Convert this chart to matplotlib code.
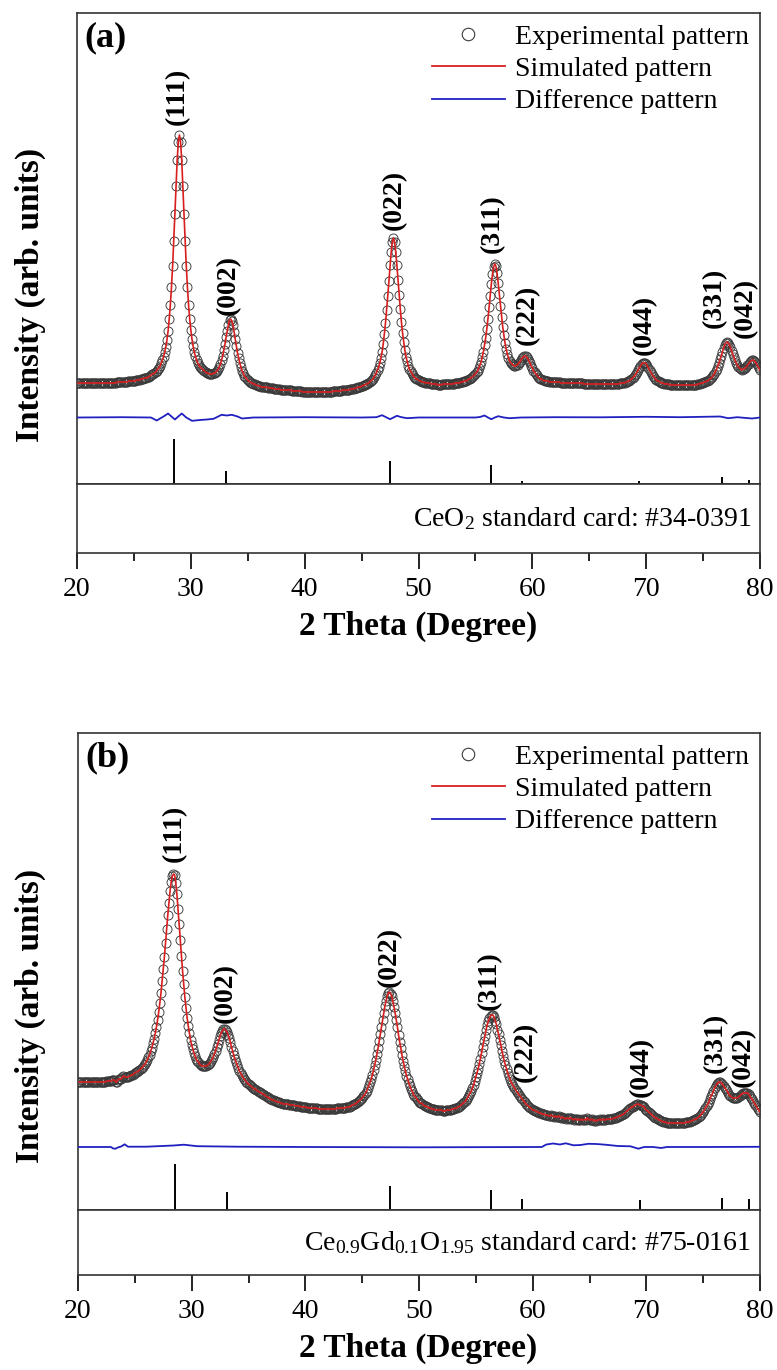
import numpy as np
import matplotlib
matplotlib.use("Agg")
import matplotlib.pyplot as plt
from matplotlib.lines import Line2D
from matplotlib.ticker import MultipleLocator

plt.rcParams['font.family'] = ['Liberation Serif', 'DejaVu Serif']
plt.rcParams['mathtext.fontset'] = 'custom'
plt.rcParams['mathtext.rm'] = 'Liberation Serif'
plt.rcParams['mathtext.it'] = 'Liberation Serif:italic'
plt.rcParams['mathtext.bf'] = 'Liberation Serif:bold'

# 2 theta grid of the scan (0.1 deg step, 20..80)
two_theta = np.round(np.arange(200, 801) / 10.0, 1)

# (a) CeO2 - observed intensity (arb. units), one row per degree
obs_a = [
    101, 101, 101, 101, 101, 101, 101, 101, 101, 101,
    101, 101, 101, 101, 101, 101, 101, 101, 101, 101,
    101, 101, 101, 101, 101, 101, 101, 101, 101, 101,
    101, 101, 101, 101, 101, 102, 102, 102, 102, 102,
    102, 102, 102, 102, 102, 103, 103, 103, 103, 103,
    103, 103, 104, 104, 104, 104, 105, 105, 105, 106,
    106, 106, 107, 107, 108, 109, 110, 110, 111, 112,
    113, 115, 116, 118, 121, 124, 127, 132, 137, 144,
    153, 165, 179, 197, 218, 243, 270, 298, 324, 342,
    349, 342, 324, 298, 270, 243, 218, 197, 179, 165,
    154, 145, 138, 132, 128, 124, 121, 119, 117, 116,
    115, 114, 113, 112, 111, 111, 110, 110, 110, 110,
    111, 111, 112, 113, 115, 117, 120, 124, 128, 134,
    140, 147, 153, 159, 164, 165, 163, 159, 152, 145,
    138, 131, 126, 121, 117, 113, 111, 108, 107, 105,
    104, 103, 102, 101, 101, 100, 100, 99, 99, 98,
    98, 98, 97, 97, 97, 97, 97, 97, 96, 96,
    96, 96, 96, 95, 95, 95, 95, 95, 95, 94,
    94, 94, 94, 94, 94, 94, 94, 94, 94, 93,
    93, 93, 93, 93, 93, 93, 93, 93, 92, 92,
    92, 92, 92, 92, 92, 92, 92, 92, 92, 92,
    92, 92, 92, 92, 92, 92, 92, 92, 92, 92,
    92, 92, 92, 92, 92, 93, 93, 93, 93, 93,
    93, 93, 93, 94, 94, 94, 94, 94, 94, 94,
    95, 95, 95, 95, 96, 96, 96, 97, 97, 97,
    98, 98, 99, 99, 100, 100, 101, 102, 103, 104,
    105, 107, 109, 111, 114, 117, 121, 126, 132, 140,
    150, 161, 174, 188, 203, 219, 232, 242, 246, 242,
    232, 219, 204, 189, 175, 162, 151, 142, 134, 127,
    123, 118, 115, 113, 111, 109, 107, 106, 105, 105,
    104, 103, 103, 102, 102, 102, 101, 101, 101, 101,
    101, 100, 100, 100, 100, 100, 100, 99, 99, 99,
    99, 100, 100, 100, 100, 100, 100, 100, 100, 100,
    100, 100, 101, 101, 101, 101, 101, 102, 102, 102,
    103, 103, 103, 104, 105, 105, 106, 107, 108, 109,
    110, 112, 113, 116, 119, 122, 127, 132, 139, 146,
    155, 165, 177, 188, 200, 210, 217, 220, 218, 211,
    201, 190, 178, 167, 157, 149, 141, 135, 130, 126,
    123, 121, 120, 119, 118, 118, 119, 119, 121, 122,
    124, 126, 127, 128, 128, 127, 125, 123, 121, 118,
    116, 113, 112, 110, 109, 107, 106, 105, 105, 104,
    104, 103, 103, 103, 103, 102, 102, 102, 102, 102,
    102, 102, 102, 102, 102, 101, 101, 101, 101, 101,
    101, 101, 101, 101, 101, 101, 101, 101, 101, 101,
    101, 101, 101, 101, 101, 100, 100, 100, 100, 100,
    100, 100, 100, 100, 100, 100, 100, 100, 100, 100,
    100, 100, 100, 100, 100, 100, 100, 100, 100, 100,
    100, 100, 100, 100, 100, 100, 100, 101, 101, 101,
    101, 101, 102, 102, 103, 103, 104, 105, 106, 107,
    109, 110, 112, 114, 116, 118, 120, 121, 121, 121,
    120, 118, 116, 114, 112, 110, 108, 107, 105, 104,
    103, 103, 102, 101, 101, 101, 100, 100, 100, 100,
    100, 99, 99, 99, 99, 99, 99, 99, 99, 99,
    99, 99, 99, 99, 99, 99, 99, 99, 99, 99,
    99, 99, 99, 99, 99, 100, 100, 100, 101, 101,
    101, 102, 102, 103, 103, 104, 105, 106, 107, 109,
    110, 113, 115, 118, 121, 125, 128, 132, 136, 139,
    141, 142, 141, 139, 137, 133, 130, 127, 124, 121,
    119, 117, 116, 115, 114, 115, 115, 116, 117, 119,
    120, 122, 123, 124, 124, 123, 122, 120, 118, 116,
    114,
]

# (b) Ce0.9Gd0.1O1.95 - observed intensity (arb. units)
obs_b = [
    128, 128, 128, 128, 128, 128, 128, 128, 128, 128,
    128, 128, 128, 128, 128, 128, 128, 128, 128, 128,
    128, 128, 128, 128, 128, 129, 129, 129, 129, 129,
    130, 130, 130, 128, 128, 130, 131, 131, 131, 133,
    134, 133, 133, 133, 133, 134, 134, 135, 135, 136,
    137, 138, 138, 139, 140, 141, 142, 143, 145, 146,
    148, 150, 153, 155, 159, 162, 167, 171, 177, 183,
    190, 198, 207, 217, 229, 241, 253, 267, 281, 295,
    307, 319, 328, 334, 336, 335, 327, 316, 301, 286,
    270, 254, 239, 226, 213, 202, 192, 184, 177, 170,
    165, 161, 157, 154, 151, 149, 148, 146, 145, 144,
    144, 144, 144, 144, 145, 146, 147, 149, 151, 153,
    156, 159, 163, 166, 170, 174, 177, 179, 181, 181,
    180, 178, 175, 172, 168, 163, 159, 155, 151, 148,
    145, 142, 139, 137, 135, 133, 131, 130, 128, 127,
    126, 125, 124, 123, 122, 121, 121, 120, 119, 118,
    118, 117, 116, 116, 115, 114, 113, 113, 112, 111,
    111, 110, 110, 109, 109, 108, 108, 108, 107, 107,
    106, 106, 106, 106, 106, 106, 105, 105, 105, 105,
    105, 104, 104, 104, 104, 104, 103, 103, 103, 103,
    103, 103, 102, 102, 102, 102, 102, 102, 102, 102,
    102, 101, 101, 101, 101, 101, 101, 101, 101, 101,
    101, 101, 101, 101, 101, 101, 101, 101, 102, 102,
    102, 102, 102, 102, 102, 102, 103, 103, 103, 103,
    104, 105, 105, 106, 106, 107, 108, 109, 110, 111,
    112, 114, 115, 117, 119, 122, 125, 128, 131, 135,
    140, 145, 150, 156, 162, 169, 176, 183, 190, 197,
    204, 209, 214, 217, 218, 216, 214, 209, 203, 197,
    190, 183, 175, 168, 162, 155, 149, 144, 139, 134,
    131, 127, 124, 121, 119, 116, 114, 113, 111, 110,
    108, 107, 107, 106, 105, 104, 104, 103, 103, 102,
    102, 101, 101, 101, 100, 100, 100, 100, 100, 100,
    100, 99, 99, 99, 100, 100, 100, 100, 100, 101,
    101, 101, 102, 102, 103, 103, 104, 105, 106, 107,
    108, 109, 111, 113, 115, 117, 119, 122, 125, 129,
    133, 137, 141, 146, 151, 157, 163, 169, 174, 180,
    185, 189, 192, 194, 195, 195, 193, 189, 186, 180,
    176, 170, 165, 159, 154, 149, 145, 141, 137, 134,
    131, 128, 126, 124, 122, 120, 118, 117, 115, 114,
    112, 111, 109, 108, 106, 105, 104, 103, 102, 101,
    100, 100, 99, 99, 98, 98, 97, 97, 96, 96,
    96, 95, 95, 95, 94, 94, 95, 94, 94, 93,
    94, 93, 93, 94, 93, 92, 93, 92, 92, 91,
    92, 92, 91, 92, 92, 91, 90, 91, 91, 90,
    91, 90, 90, 91, 90, 90, 91, 90, 92, 91,
    90, 90, 91, 90, 89, 90, 89, 90, 90, 91,
    90, 90, 91, 90, 90, 91, 91, 91, 91, 91,
    91, 92, 92, 92, 93, 93, 94, 94, 95, 95,
    96, 97, 98, 99, 100, 101, 102, 103, 103, 104,
    105, 105, 106, 106, 105, 105, 104, 104, 103, 101,
    100, 99, 98, 97, 96, 95, 94, 93, 92, 92,
    91, 90, 90, 89, 89, 88, 88, 88, 87, 87,
    87, 87, 87, 87, 87, 87, 87, 87, 87, 87,
    87, 87, 87, 87, 87, 88, 88, 88, 88, 89,
    89, 90, 90, 91, 91, 92, 93, 94, 95, 97,
    98, 100, 102, 104, 106, 108, 111, 114, 116, 119,
    122, 124, 126, 127, 128, 128, 127, 126, 124, 122,
    121, 119, 117, 115, 114, 113, 112, 112, 112, 112,
    112, 113, 114, 115, 116, 117, 117, 117, 117, 117,
    116, 114, 112, 111, 109, 107, 105, 103, 101, 100,
    98,
]

# difference (obs - calc) curves
diff_a_x = [20, 24, 26.5, 27.0, 27.6, 28.0, 28.3, 28.6, 28.9, 29.2,
            29.6, 30.1, 30.8, 31.4, 32.0, 32.7, 33.15, 33.6, 34.1, 34.5,
            35.5, 40, 45, 46.3, 46.8, 47.2, 47.5, 47.8, 48.1, 48.5,
            49.0, 50, 55, 55.4, 55.8, 56.1, 56.4, 56.7, 57.0, 57.5,
            58.0, 59, 62, 66, 70, 73, 76.5, 77.2, 78, 79.3, 80]
diff_a_y = [0, 0.3, 0, -3.0, 1.0, 4.0, 1.0, -2.0, 1.0, 4.0,
            0, -3.3, -2.5, -2.0, -1.3, 2.7, 2.0, 2.7, 1.0, -1.0,
            0, 0.3, 0, 0.3, 2.3, 0, -1.7, 0, 1.7, 0.3,
            -0.7, 0, 0, 0.5, 2.0, 0, -1.7, 0, 1.3, 0,
            -0.7, 0, 0.3, 0.2, 0.7, 0.3, 1.0, -0.7, 0.3, -1.0, 0]
diff_b_x = [20, 22.9, 23.1, 23.3, 23.5, 23.8, 24.1, 24.4, 26, 28.4,
            29.3, 30.5, 34, 40, 50, 60.8, 61.2, 61.8, 62.4, 62.9,
            63.6, 64.2, 64.9, 65.6, 66.4, 67.5, 68.6, 69.3, 69.8, 70.6,
            71.3, 71.8, 75, 80]
diff_b_y = [0, 0, -1.5, -1.7, -0.5, 0.5, 2.7, 0.3, 0.3, 1.5,
            2.3, 0.8, 0.3, 0, -0.3, 0, 2.5, 3.5, 2.5, 3.7,
            1.7, 2.0, 3.2, 3.0, 2.3, 1.0, 0.7, -1.7, 0, 0,
            -1.0, 0, 0, 0.2]

# standard card reflections
card_pos = [28.55, 33.08, 47.48, 56.34, 59.09, 69.40, 76.70, 79.07]
card_int_a = [100, 29, 51, 42, 7, 7, 16, 9]
card_int_b = [100, 39, 52, 43, 24, 22, 26, 24]

hkl = ["(111)", "(002)", "(022)", "(311)", "(222)", "(044)", "(331)", "(042)"]
hkl_x_a = [28.8, 33.3, 47.85, 56.5, 59.6, 69.8, 76.0, 78.7]
hkl_y_a = [359, 169, 254, 231, 139, 129, 156, 146]
hkl_x_b = [28.5, 33.0, 47.4, 56.2, 59.4, 69.6, 76.1, 78.5]
hkl_y_b = [348, 187, 223, 200, 128, 113, 137, 123]

legend_labels = ["Experimental pattern", "Simulated pattern", "Difference pattern"]

RED = "#d81e1e"
BLUE = "#2020c0"
EDGE = "#3a3a3a"
W, H = 777, 1370


def fx(px):
    return px / W


def fy(px):
    return 1 - px / H


def draw_panel(fig, top, sep, bottom, left, obs, dx, dy, d_off, card_int, card_scale,
               hx, hy, tag, card_text):
    right = 760
    ax = fig.add_axes([fx(left), fy(sep), fx(right - left), (sep - top) / H])
    box = fig.add_axes([fx(left), fy(bottom), fx(right - left), (bottom - sep) / H])

    ax.plot(two_theta, obs, "o", ms=6.5, mfc="none", mec=EDGE, mew=0.65, zorder=2)
    ax.plot(two_theta, obs, color=RED, lw=1.2, zorder=3)
    ax.plot(dx, np.array(dy) + d_off, color=BLUE, lw=1.3, zorder=3)
    ax.vlines(card_pos, 0, np.array(card_int) * card_scale, color="black", lw=1.4)

    for lab, x, y in zip(hkl, hx, hy):
        ax.text(x, y, lab, rotation=90, ha="center", va="bottom",
                fontsize=20, fontweight="bold")

    ax.text(0.011, 0.982, tag, transform=ax.transAxes, ha="left", va="top",
            fontsize=26, fontweight="bold")

    handles = [
        Line2D([], [], marker="o", ls="none", mfc="none", mec=EDGE, ms=9, mew=0.8),
        Line2D([], [], color=RED, lw=1.3),
        Line2D([], [], color=BLUE, lw=1.3),
    ]
    ax.legend(handles, legend_labels, loc="upper right", frameon=False, fontsize=20,
              borderaxespad=0.25, borderpad=0.15, handlelength=2.65,
              handletextpad=0.35, labelspacing=0.25)

    ax.set_xlim(20, 80)
    ax.set_ylim(0, sep - top)
    ax.set_xticks([])
    ax.set_yticks([])

    box.set_xlim(20, 80)
    box.set_ylim(0, 1)
    box.set_yticks([])
    box.xaxis.set_major_locator(MultipleLocator(10))
    box.xaxis.set_minor_locator(MultipleLocator(5))
    box.tick_params(axis="x", which="major", direction="out", length=11.5,
                    width=1.2, labelsize=20, pad=6)
    box.tick_params(axis="x", which="minor", direction="out", length=5.8, width=1.2)
    box.text(0.987, 0.5, card_text, transform=box.transAxes, ha="right",
             va="center", fontsize=20)

    for a in (ax, box):
        for s in a.spines.values():
            s.set_linewidth(1.2)
            s.set_color("#333333")

    fig.text(fx(30), fy((top + bottom) / 2 + 12), "Intensity (arb. units)",
             rotation=90, ha="center", va="center", fontsize=24, fontweight="bold")
    fig.text(fx(418), fy(bottom + 73), "2 Theta (Degree)", ha="center",
             va="center", fontsize=24, fontweight="bold")


fig = plt.figure(figsize=(W / 100, H / 100), dpi=100)

draw_panel(fig, 13, 484, 553, 77, obs_a, diff_a_x, diff_a_y, 66.5,
           card_int_a, 0.45, hkl_x_a, hkl_y_a, "(a)",
           r"CeO$_{\mathrm{2}}$ standard card: #34-0391")
draw_panel(fig, 733, 1210, 1275, 78, obs_b, diff_b_x, diff_b_y, 63,
           card_int_b, 0.46, hkl_x_b, hkl_y_b, "(b)",
           r"Ce$_{\mathrm{0.9}}$Gd$_{\mathrm{0.1}}$O$_{\mathrm{1.95}}$ standard card: #75-0161")

fig.savefig("out.png", dpi=100)
